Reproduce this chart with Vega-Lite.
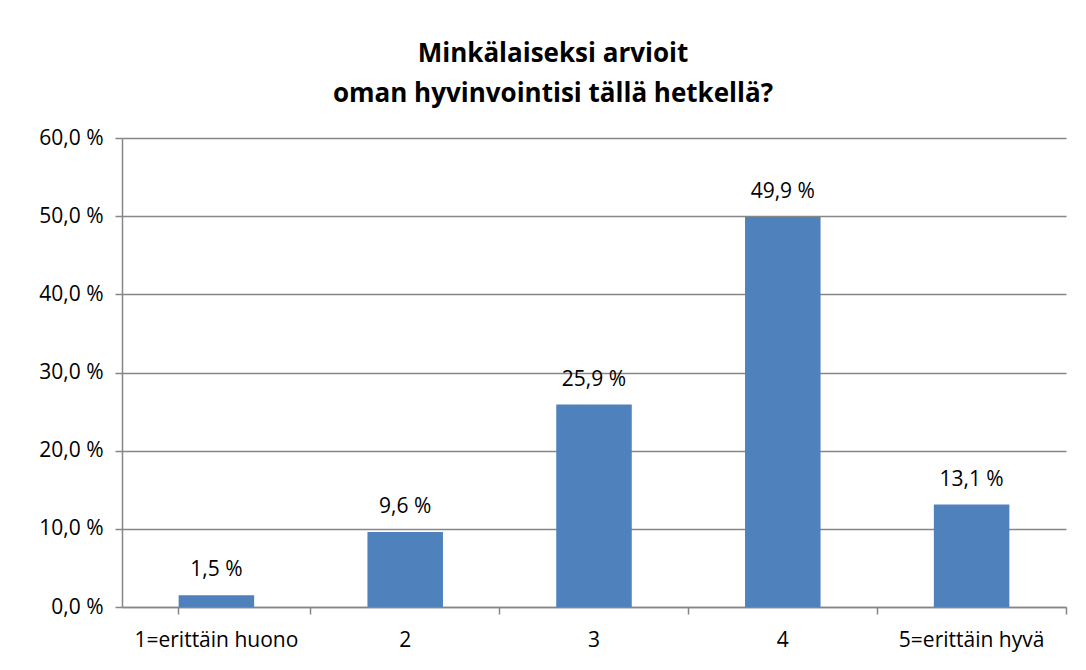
{
  "$schema": "https://vega.github.io/schema/vega-lite/v6.json",
  "width": 944,
  "height": 469,
  "autosize": "none",
  "padding": {"left": 122, "right": 20, "top": 138, "bottom": 63},
  "background": "white",
  "config": {
    "view": {"stroke": null},
    "font": "Open Sans"
  },
  "title": {
    "text": ["Minkälaiseksi arvioit", "oman hyvinvointisi tällä hetkellä?"],
    "font": "Open Sans",
    "fontSize": 26,
    "fontWeight": "bold",
    "color": "#000000",
    "lineHeight": 40,
    "anchor": "middle",
    "frame": "group",
    "offset": 20,
    "dx": -41
  },
  "data": {
    "values": [
      {"category": "1=erittäin huono", "value": 1.5},
      {"category": "2", "value": 9.6},
      {"category": "3", "value": 25.9},
      {"category": "4", "value": 49.9},
      {"category": "5=erittäin hyvä", "value": 13.1}
    ]
  },
  "encoding": {
    "x": {
      "field": "category",
      "type": "nominal",
      "sort": null,
      "scale": {"paddingInner": 0.6, "paddingOuter": 0.3},
      "axis": {
        "title": null,
        "labelAngle": 0,
        "labelFont": "Open Sans",
        "labelFontSize": 21,
        "labelColor": "#000000",
        "labelPadding": 15,
        "domainColor": "#868686",
        "domainWidth": 1.5,
        "tickColor": "#868686",
        "tickWidth": 1.5,
        "tickSize": 7,
        "bandPosition": 1.75,
        "tickExtra": true,
        "grid": false
      }
    },
    "y": {
      "field": "value",
      "type": "quantitative",
      "scale": {"domain": [0, 60], "nice": false},
      "axis": {
        "title": null,
        "values": [0, 10, 20, 30, 40, 50, 60],
        "labelExpr": "replace(format(datum.value, '.1f'), '.', ',') + ' %'",
        "labelFont": "Open Sans",
        "labelFontSize": 21,
        "labelColor": "#000000",
        "labelPadding": 12,
        "domainColor": "#868686",
        "domainWidth": 1.5,
        "tickColor": "#868686",
        "tickWidth": 1.5,
        "tickSize": 7,
        "gridColor": "#868686",
        "gridWidth": 1.5
      }
    }
  },
  "layer": [
    {"mark": {"type": "bar", "color": "#4F81BD"}},
    {
      "mark": {
        "type": "text",
        "baseline": "alphabetic",
        "dy": -19,
        "fontSize": 21,
        "font": "Open Sans",
        "color": "#000000",
        "text": {"expr": "replace(format(datum.value, '.1f'), '.', ',') + ' %'"}
      }
    }
  ]
}
